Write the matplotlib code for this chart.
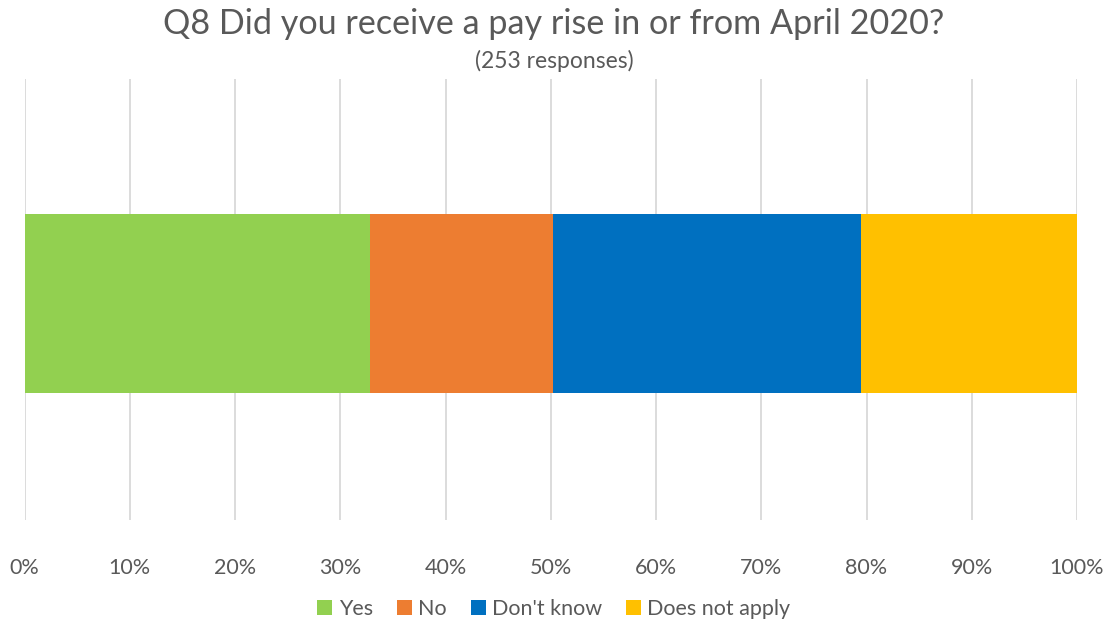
import matplotlib
matplotlib.use("Agg")
import matplotlib.pyplot as plt
from matplotlib.ticker import PercentFormatter

# response counts for Q8 (253 responses)
categories = ["Yes", "No", "Don't know", "Does not apply"]
counts = [83, 44, 74, 52]
colors = ["#92D050", "#ED7D31", "#0070C0", "#FFC000"]
xticks = list(range(0, 101, 10))

total = sum(counts)
shares = [100 * c / total for c in counts]

plt.rcParams["font.family"] = ["Lato", "DejaVu Sans"]
text_col = "#595959"

fig = plt.figure(figsize=(11.08, 6.25), dpi=100)
ax = fig.add_axes([24.5 / 1108, 1 - 520 / 625, (1077 - 24.5) / 1108, 441 / 625])

left = 0.0
for name, share, col in zip(categories, shares, colors):
    ax.barh(-0.008, share, left=left, height=0.406, color=col, label=name, zorder=3)
    left += share

ax.set_xlim(0, 100)
ax.set_ylim(-0.5, 0.5)
ax.set_yticks([])
ax.set_xticks(xticks)
ax.xaxis.set_major_formatter(PercentFormatter(decimals=0))
ax.tick_params(axis="x", length=0, pad=27, labelsize=15.5, labelcolor=text_col)
ax.grid(axis="x", color="#D9D9D9", linewidth=1.3, zorder=0)
for s in ax.spines.values():
    s.set_visible(False)

fig.text(0.5, 1 - 24 / 625, "Q8 Did you receive a pay rise in or from April 2020?",
         ha="center", va="center", fontsize=24.6, color=text_col)
fig.text(0.5, 1 - 61 / 625, "(253 responses)", ha="center", va="center",
         fontsize=16.5, color=text_col)

fig.legend(loc="center", bbox_to_anchor=(0.5, 1 - 609 / 625), ncol=4, frameon=False,
           fontsize=15.5, labelcolor=text_col, handlelength=0.7, handleheight=0.7,
           handletextpad=0.3, columnspacing=1.1)

fig.savefig("out.png", dpi=100)
